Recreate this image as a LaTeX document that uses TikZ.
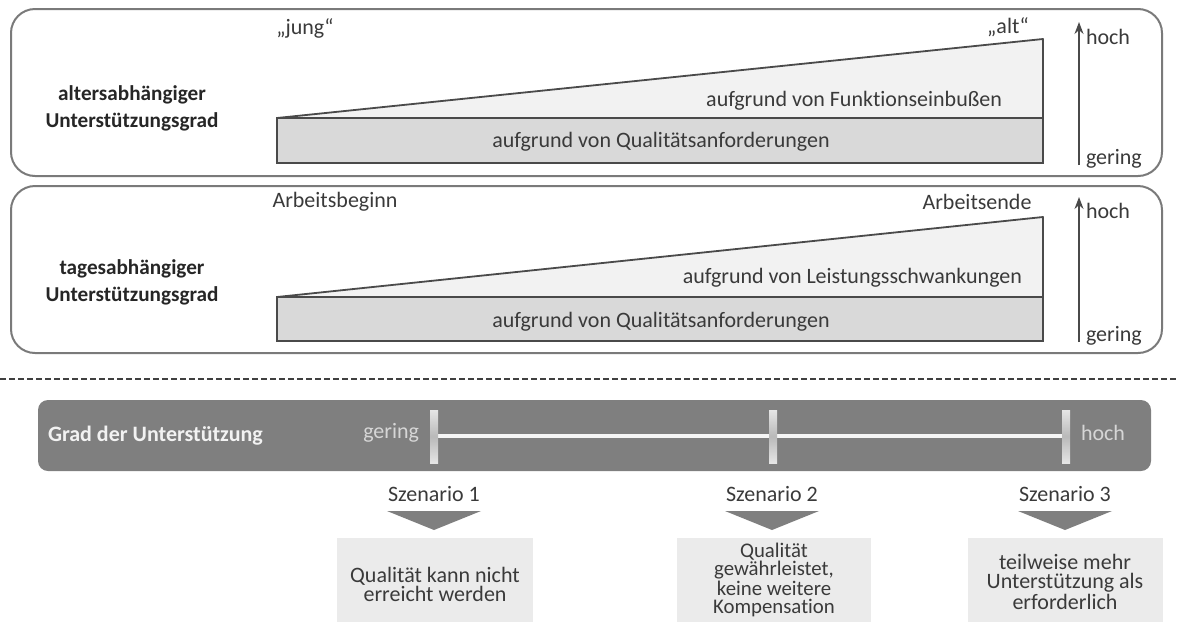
\documentclass[tikz,border=0pt]{standalone}
\usepackage{fontspec}
\setmainfont{Carlito}[Ligatures=NoCommon]
\usetikzlibrary{shadings,arrows.meta}
\definecolor{frame}{HTML}{7A7A7A}
\definecolor{edge}{HTML}{4A4A4A}
\definecolor{basefill}{HTML}{D9D9D9}
\definecolor{wedgefill}{HTML}{F2F2F2}
\definecolor{barfill}{HTML}{7F7F7F}
\definecolor{scenfill}{HTML}{EBEBEB}
\definecolor{txt}{HTML}{3A3A3A}
\definecolor{bartxt}{HTML}{D6D6D6}
\tikzset{
  x=0.5pt, y=-0.5pt,
  every node/.style={inner sep=0pt, outer sep=0pt, text=txt,
    font=\fontsize{11}{13}\selectfont},
  panel/.style={draw=frame, line width=1pt, rounded corners=12pt},
  wedge/.style={draw=edge, line width=0.9pt, fill=wedgefill, line join=round},
  base/.style={draw=edge, line width=0.9pt, fill=basefill},
  rowlabel/.style={align=center, text=black!85,
    font=\bfseries\fontsize{10.6}{13.5}\selectfont},
  scale label/.style={anchor=west},
  levelarrow/.style={draw=edge, line width=0.9pt, -{Stealth[length=6pt,width=4.5pt]}},
  tick/.style={top color=gray!20, bottom color=gray!20, middle color=gray!55},
  pointer/.style={fill=barfill},
  outcome/.style={fill=scenfill},
  outcometext/.style={align=center, font=\fontsize{11}{9.5}\selectfont},
}
\begin{document}
\begin{tikzpicture}
\useasboundingbox (0,0) rectangle (1177,622);

% --- age-dependent support level
\draw[panel] (11,9) rectangle (1162,176);
\draw[wedge] (277,118) -- (1043,39) -- (1043,118) -- cycle;
\draw[base] (277,118) rectangle (1043,163);
\node[rowlabel] (age) at (132,108) {altersabhängiger\\Unterstützungsgrad};
\node (jung) at (305,28) {„jung“};
\node (alt) at (1008,27) {„alt“};
\node[anchor=east] (func) at (1002,101) {aufgrund von Funktionseinbußen};
\node (qual1) at (661,142) {aufgrund von Qualitätsanforderungen};
\coordinate (lo1) at (1079,165);
\coordinate (hi1) at (1079,22);
\draw[levelarrow] (lo1) -- (hi1);
\node[scale label] (hoch1) at (1086,37) {hoch};
\node[scale label] (gering1) at (1086,159) {gering};

% --- day-dependent support level
\draw[panel] (11,186) rectangle (1162,353);
\draw[wedge] (277,297) -- (1043,217) -- (1043,297) -- cycle;
\draw[base] (277,297) rectangle (1043,341);
\node[rowlabel] (day) at (132,282) {tagesabhängiger\\Unterstützungsgrad};
\node (start) at (335,202) {Arbeitsbeginn};
\node (end) at (977,202) {Arbeitsende};
\node[anchor=east] (perf) at (1022,278) {aufgrund von Leistungsschwankungen};
\node (qual2) at (661,322) {aufgrund von Qualitätsanforderungen};
\coordinate (lo2) at (1079,342);
\coordinate (hi2) at (1079,197);
\draw[levelarrow] (lo2) -- (hi2);
\node[scale label] (hoch2) at (1086,211) {hoch};
\node[scale label] (gering2) at (1086,336) {gering};

% --- separator
\draw[black!75, line width=1pt, dash pattern=on 3pt off 1.5pt] (0,379) -- (1177,379);

% --- scale bar
\fill[barfill, rounded corners=5pt] (38,400) rectangle (1151,471);
\node[anchor=west, text=white!95!black, font=\bfseries\fontsize{11}{13}\selectfont] (grad) at (48,436) {Grad der Unterstützung};
\node[anchor=east, text=bartxt] (barlo) at (419,433) {gering};
\node[anchor=west, text=bartxt] (barhi) at (1081,433) {hoch};
\draw[white!92!gray, line width=2pt] (434,436) -- (1066,436);
\shade[tick] (430,410) rectangle (438,463);
\shade[tick] (769,410) rectangle (777,463);
\shade[tick] (1062,410) rectangle (1070,463);

% --- scenarios
\node (s1) at (434,494) {Szenario 1};
\node (s2) at (772,494) {Szenario 2};
\node (s3) at (1065,494) {Szenario 3};
\fill[pointer] (387,511) -- (481,511) -- (434,530) -- cycle;
\fill[pointer] (725,511) -- (819,511) -- (772,530) -- cycle;
\fill[pointer] (1018,511) -- (1112,511) -- (1065,530) -- cycle;
\fill[outcome] (337,538) rectangle (533,622);
\fill[outcome] (677,538) rectangle (871,622);
\fill[outcome] (968,538) rectangle (1163,622);
\node[outcometext] (o1) at (435,584) {Qualität kann nicht\\erreicht werden};
\node[outcometext, font=\fontsize{10.4}{9}\selectfont] (o2) at (774,580) {Qualität\\gewährleistet,\\keine weitere\\Kompensation};
\node[outcometext] (o3) at (1065,582) {teilweise mehr\\Unterstützung als\\erforderlich};
\end{tikzpicture}
\end{document}
